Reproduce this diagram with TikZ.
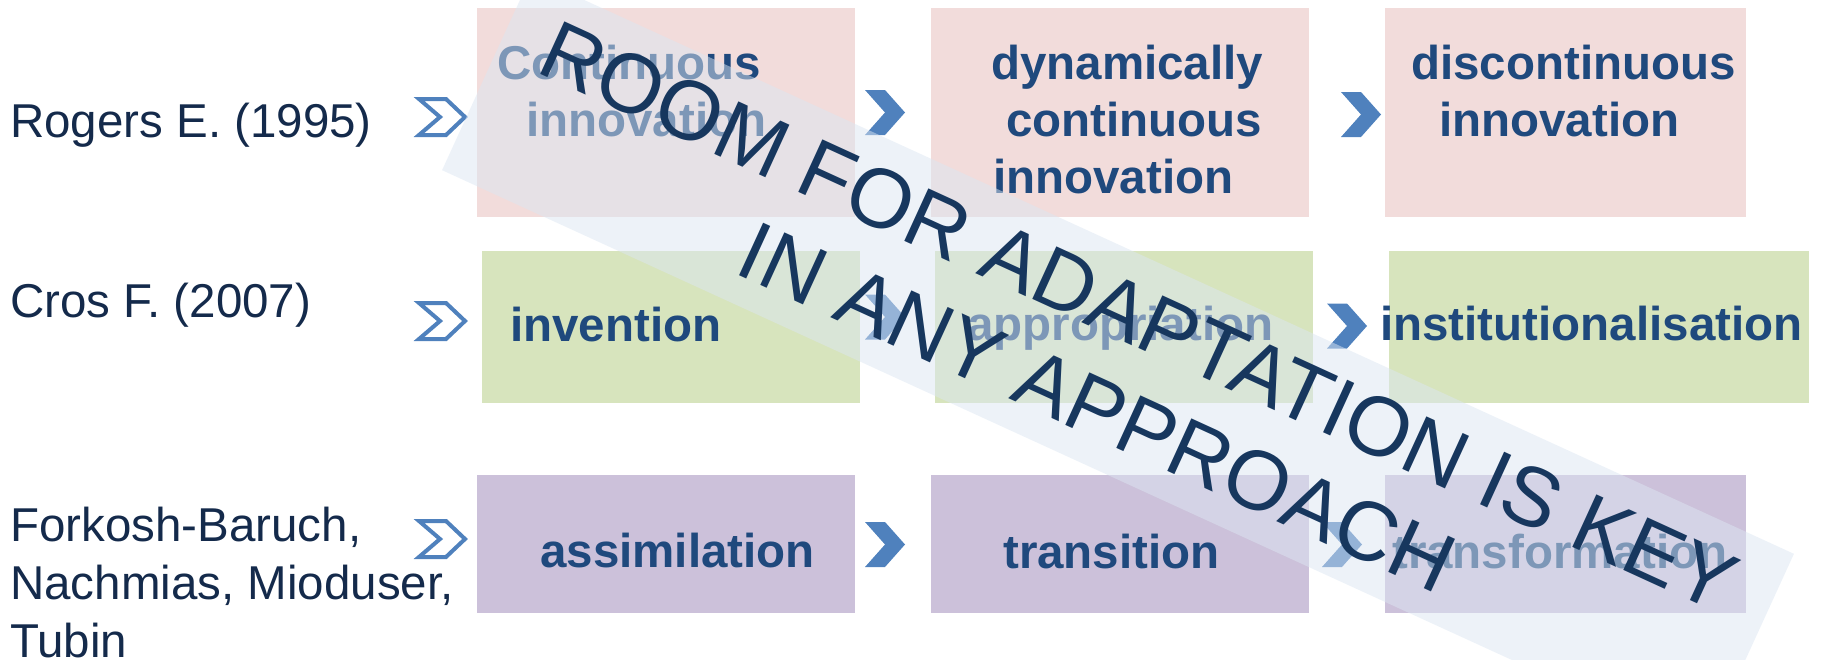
\documentclass[tikz,border=0pt]{standalone}
\usepackage{fontspec}
\setmainfont{Liberation Sans}
\definecolor{pinkfill}{HTML}{F2DCDB}
\definecolor{greenfill}{HTML}{D7E4BD}
\definecolor{purplefill}{HTML}{CCC1DA}
\definecolor{chevblue}{HTML}{4F81BD}
\definecolor{boxblue}{HTML}{1F497D}
\definecolor{authornavy}{HTML}{142A4B}
\definecolor{bannertext}{HTML}{17375E}
\definecolor{bannerfill}{HTML}{DCE6F2}
\begin{document}
\begin{tikzpicture}[x=1pt,y=-1pt,
  stagebox/.style={rectangle, inner sep=0pt, outer sep=0pt, anchor=north west},
  stagetext/.style={font=\fontsize{47.5}{57}\selectfont\bfseries, text=boxblue,
    align=left, anchor=base west, inner sep=0pt},
  author/.style={font=\fontsize{47.5}{58}\selectfont, text=authornavy,
    align=left, anchor=base west, inner sep=0pt},
  chevfill/.pic={\fill[chevblue] (0,-22.5) -- (20,-22.5) -- (40,0) -- (20,22.5)
    -- (0,22.5) -- (20,0) -- cycle;},
  chevopen/.pic={\draw[chevblue, line width=4pt, fill=white] (2,-18) -- (29,-18)
    -- (48,0) -- (29,18) -- (2,18) -- (23,0) -- cycle;}
]
\useasboundingbox (0,0) rectangle (1826,659);
\clip (0,0) rectangle (1826,659);

% authors (multi-line nodes sit on the baseline of their last line)
\node[author] (a1) at (10,137) {Rogers E. (1995)};
\node[author] (a2) at (10,317) {Cros F. (2007)};
\node[author] (a3) at (10,657) {Forkosh-Baruch,\\Nachmias, Mioduser,\\Tubin};

% stage boxes
\node[stagebox, fill=pinkfill, minimum width=378pt, minimum height=209pt] (r1a) at (477,8) {};
\node[stagebox, fill=pinkfill, minimum width=378pt, minimum height=209pt] (r1b) at (931,8) {};
\node[stagebox, fill=pinkfill, minimum width=361pt, minimum height=209pt] (r1c) at (1385,8) {};
\node[stagebox, fill=greenfill, minimum width=378pt, minimum height=152pt] (r2a) at (482,251) {};
\node[stagebox, fill=greenfill, minimum width=378pt, minimum height=152pt] (r2b) at (935,251) {};
\node[stagebox, fill=greenfill, minimum width=420pt, minimum height=152pt] (r2c) at (1389,251) {};
\node[stagebox, fill=purplefill, minimum width=378pt, minimum height=138pt] (r3a) at (477,475) {};
\node[stagebox, fill=purplefill, minimum width=378pt, minimum height=138pt] (r3b) at (931,475) {};
\node[stagebox, fill=purplefill, minimum width=361pt, minimum height=138pt] (r3c) at (1385,475) {};

% stage labels
\node[stagetext] (t1a) at (497,136) {Continuous\\\hspace*{29pt}innovation};
\node[stagetext] (t1b) at (991,193) {dynamically\\\hspace*{15pt}continuous\\\hspace*{2pt}innovation};
\node[stagetext] (t1c) at (1411,136) {discontinuous\\\hspace*{28pt}innovation};
\node[stagetext] (t2a) at (510,341) {invention};
\node[stagetext] (t2b) at (967,340) {appropriation};
\node[stagetext] (t2c) at (1380,340) {institutionalisation};
\node[stagetext] (t3a) at (540,567) {assimilation};
\node[stagetext] (t3b) at (1003,568) {transition};
\node[stagetext] (t3c) at (1392,568) {transformation};

% chevrons
\pic at (417,117) {chevopen};
\pic at (417,321) {chevopen};
\pic at (417,539) {chevopen};
\pic at (865,112.5) {chevfill};
\pic at (1341,114.5) {chevfill};
\pic at (865,317) {chevfill};
\pic at (1327,326) {chevfill};
\pic at (865,544.5) {chevfill};
\pic at (1322,544.5) {chevfill};

% diagonal banner
\node[rotate=-24.6, fill=bannerfill, fill opacity=0.5, text opacity=1,
  minimum width=1389pt, minimum height=214pt, inner sep=0pt, text=bannertext,
  font=\fontsize{84}{100}\selectfont, align=center] (banner) at (1118,362)
  {ROOM FOR ADAPTATION IS KEY\\IN ANY APPROACH};
\end{tikzpicture}
\end{document}
